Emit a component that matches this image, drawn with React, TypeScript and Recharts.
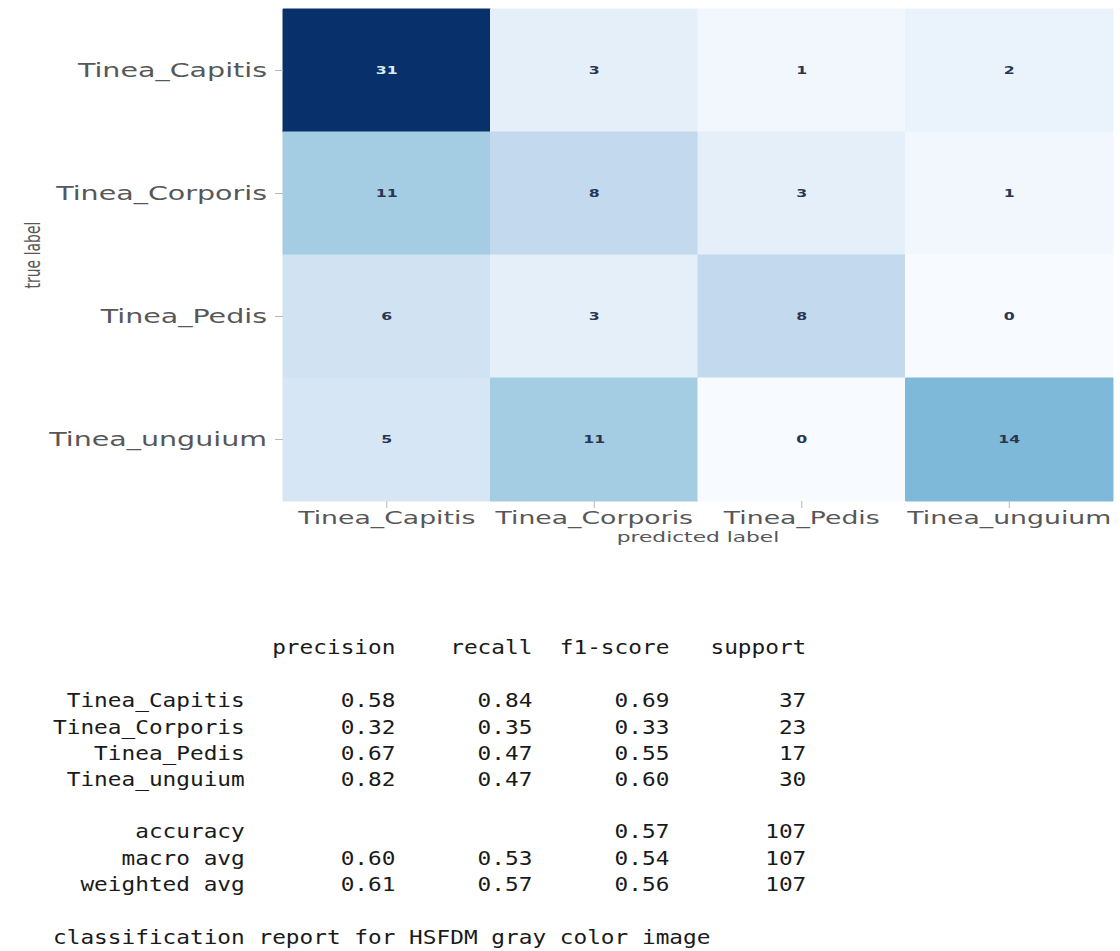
import React from 'react';
import { BarChart, Bar, XAxis, YAxis, Cell, LabelList } from 'recharts';

// Class names (rows = true label, columns = predicted label)
const classNames = ['Tinea_Capitis', 'Tinea_Corporis', 'Tinea_Pedis', 'Tinea_unguium'];

// Confusion-matrix counts, one array per true class
const capitisRow = [31, 3, 1, 2];
const corporisRow = [11, 8, 3, 1];
const pedisRow = [6, 3, 8, 0];
const unguiumRow = [5, 11, 0, 14];
const matrixRows = [capitisRow, corporisRow, pedisRow, unguiumRow];

// Per-class metrics of the classification report
const precision = [0.58, 0.32, 0.67, 0.82];
const recall = [0.84, 0.35, 0.47, 0.47];
const f1Score = [0.69, 0.33, 0.55, 0.6];
const support = [37, 23, 17, 30];
const accuracy = 0.57;
const totalSupport = 107;
const macroAvg = [0.6, 0.53, 0.54];
const weightedAvg = [0.61, 0.57, 0.56];
const reportHeaders = ['precision', 'recall', 'f1-score', 'support'];
const reportTitle = 'classification report for HSFDM gray color image';

// matplotlib "Blues" colormap stops
const BLUES = ['#f7fbff', '#deebf7', '#c6dbef', '#9ecae1', '#6baed6', '#4292c6', '#2171b5', '#08519c', '#08306b'];

const hexToRgb = (h: string) => [1, 3, 5].map((i) => parseInt(h.slice(i, i + 2), 16));
const blues = (t: number) => {
  const c = Math.max(0, Math.min(1, t)) * (BLUES.length - 1);
  const i = Math.min(Math.floor(c), BLUES.length - 2);
  const f = c - i;
  const a = hexToRgb(BLUES[i]);
  const b = hexToRgb(BLUES[i + 1]);
  const rgb = a.map((v, k) => Math.round(v + (b[k] - v) * f));
  return `rgb(${rgb[0]},${rgb[1]},${rgb[2]})`;
};

const allCounts = matrixRows.flat();
const vmin = Math.min(...allCounts);
const vmax = Math.max(...allCounts);

// Every cell spans one unit of the predicted-label axis
const chartData = matrixRows.map((counts, i) => {
  const row: Record<string, number | string> = { name: classNames[i] };
  counts.forEach((n, j) => {
    row[`w${j}`] = 1;
    row[`n${j}`] = n;
  });
  return row;
});

const STRETCH = 1.5;
const LABEL_FONT = '"DejaVu Sans", sans-serif';
const LABEL_COLOR = '#575757';

const YTick = (props: any) => {
  const { x, y, payload } = props;
  return (
    <g transform={`translate(${x},${y}) scale(${STRETCH},1)`}>
      <text textAnchor="end" dominantBaseline="central" fontFamily={LABEL_FONT} fontSize={19} fill={LABEL_COLOR}>
        {payload.value}
      </text>
    </g>
  );
};

const XTick = (props: any) => {
  const { x, y, payload } = props;
  return (
    <g transform={`translate(${x},${y}) scale(${STRETCH},1)`}>
      <text textAnchor="middle" dy="0.72em" fontFamily={LABEL_FONT} fontSize={17.8} fill={LABEL_COLOR}>
        {classNames[Math.floor(payload.value)]}
      </text>
    </g>
  );
};

const CellLabel = (props: any) => {
  const { x, y, width, height, value } = props;
  const cx = x + width / 2;
  const cy = y + height / 2;
  const dark = (value - vmin) / (vmax - vmin) > 0.6;
  return (
    <g transform={`translate(${cx},${cy}) scale(${STRETCH},1)`}>
      <text
        textAnchor="middle"
        dominantBaseline="central"
        fontFamily={LABEL_FONT}
        fontSize={10.5}
        fontWeight="bold"
        fill={dark ? '#dfe9f6' : '#2a3650'}
      >
        {value}
      </text>
    </g>
  );
};

const PredictedTitle = (props: any) => {
  const { viewBox } = props;
  const cx = viewBox.x + viewBox.width / 2;
  const cy = viewBox.y + 36;
  return (
    <g transform={`translate(${cx},${cy}) scale(${STRETCH},1)`}>
      <text textAnchor="middle" dominantBaseline="central" fontFamily={LABEL_FONT} fontSize={14.5} fill={LABEL_COLOR}>
        predicted label
      </text>
    </g>
  );
};

const TrueTitle = (props: any) => {
  const { viewBox } = props;
  const cx = viewBox.x + 32;
  const cy = viewBox.y + viewBox.height / 2;
  return (
    <g transform={`translate(${cx},${cy}) scale(${STRETCH},1) rotate(-90)`}>
      <text textAnchor="middle" dominantBaseline="central" fontFamily={LABEL_FONT} fontSize={14} fill={LABEL_COLOR}>
        true label
      </text>
    </g>
  );
};

// sklearn-style text report
const NAME_W = Math.max(...classNames.map((n) => n.length), 'weighted avg'.length);
const padL = (s: string, w: number) => (s.length >= w ? s : ' '.repeat(w - s.length) + s);
const col = (s: string) => ' ' + padL(s, 9);
const f2 = (v: number) => v.toFixed(2);

const reportLines: string[] = [
  padL('', NAME_W) + ' ' + reportHeaders.map(col).join(''),
  '',
  ...classNames.map(
    (n, i) => padL(n, NAME_W) + ' ' + col(f2(precision[i])) + col(f2(recall[i])) + col(f2(f1Score[i])) + col(String(support[i]))
  ),
  '',
  padL('accuracy', NAME_W) + ' ' + col('') + col('') + col(f2(accuracy)) + col(String(totalSupport)),
  padL('macro avg', NAME_W) + ' ' + macroAvg.map((v) => col(f2(v))).join('') + col(String(totalSupport)),
  padL('weighted avg', NAME_W) + ' ' + weightedAvg.map((v) => col(f2(v))).join('') + col(String(totalSupport)),
  '',
  reportTitle,
];

export default function App() {
  return (
    <div style={{ position: 'absolute', left: 0, top: 0, width: 1120, height: 951, background: '#ffffff', overflow: 'hidden' }}>
      <BarChart
        width={1120}
        height={560}
        data={chartData}
        layout="vertical"
        margin={{ top: 9, right: 7, bottom: 0, left: 0 }}
        barCategoryGap={0}
        barGap={0}
      >
        <XAxis
          type="number"
          domain={[0, 4]}
          ticks={[0.5, 1.5, 2.5, 3.5]}
          height={59}
          axisLine={false}
          tickSize={7}
          tickMargin={3}
          tickLine={{ stroke: '#b8b8b8', strokeWidth: 1 }}
          tick={<XTick />}
          interval={0}
          label={{ value: 'predicted label', content: <PredictedTitle /> }}
        />
        <YAxis
          type="category"
          dataKey="name"
          width={283}
          axisLine={false}
          tickSize={8}
          tickMargin={8}
          tickLine={{ stroke: '#b8b8b8', strokeWidth: 1 }}
          tick={<YTick />}
          interval={0}
          label={{ value: 'true label', content: <TrueTitle /> }}
        />
        {[0, 1, 2, 3].map((j) => (
          <Bar key={j} dataKey={`w${j}`} stackId="cm" isAnimationActive={false}>
            {matrixRows.map((counts, i) => {
              const fill = blues((counts[j] - vmin) / (vmax - vmin));
              return <Cell key={i} fill={fill} stroke={fill} strokeWidth={1} />;
            })}
            <LabelList dataKey={`n${j}`} content={<CellLabel />} />
          </Bar>
        ))}
      </BarChart>
      <pre
        style={{
          position: 'absolute',
          left: 53,
          top: 635,
          margin: 0,
          fontFamily: '"DejaVu Sans Mono", "Liberation Mono", monospace',
          fontSize: 22.76,
          lineHeight: '29.9px',
          transform: 'scaleY(0.88)',
          transformOrigin: '0 0',
          color: '#1a1a1a',
        }}
      >
        {reportLines.join('\n')}
      </pre>
    </div>
  );
}
